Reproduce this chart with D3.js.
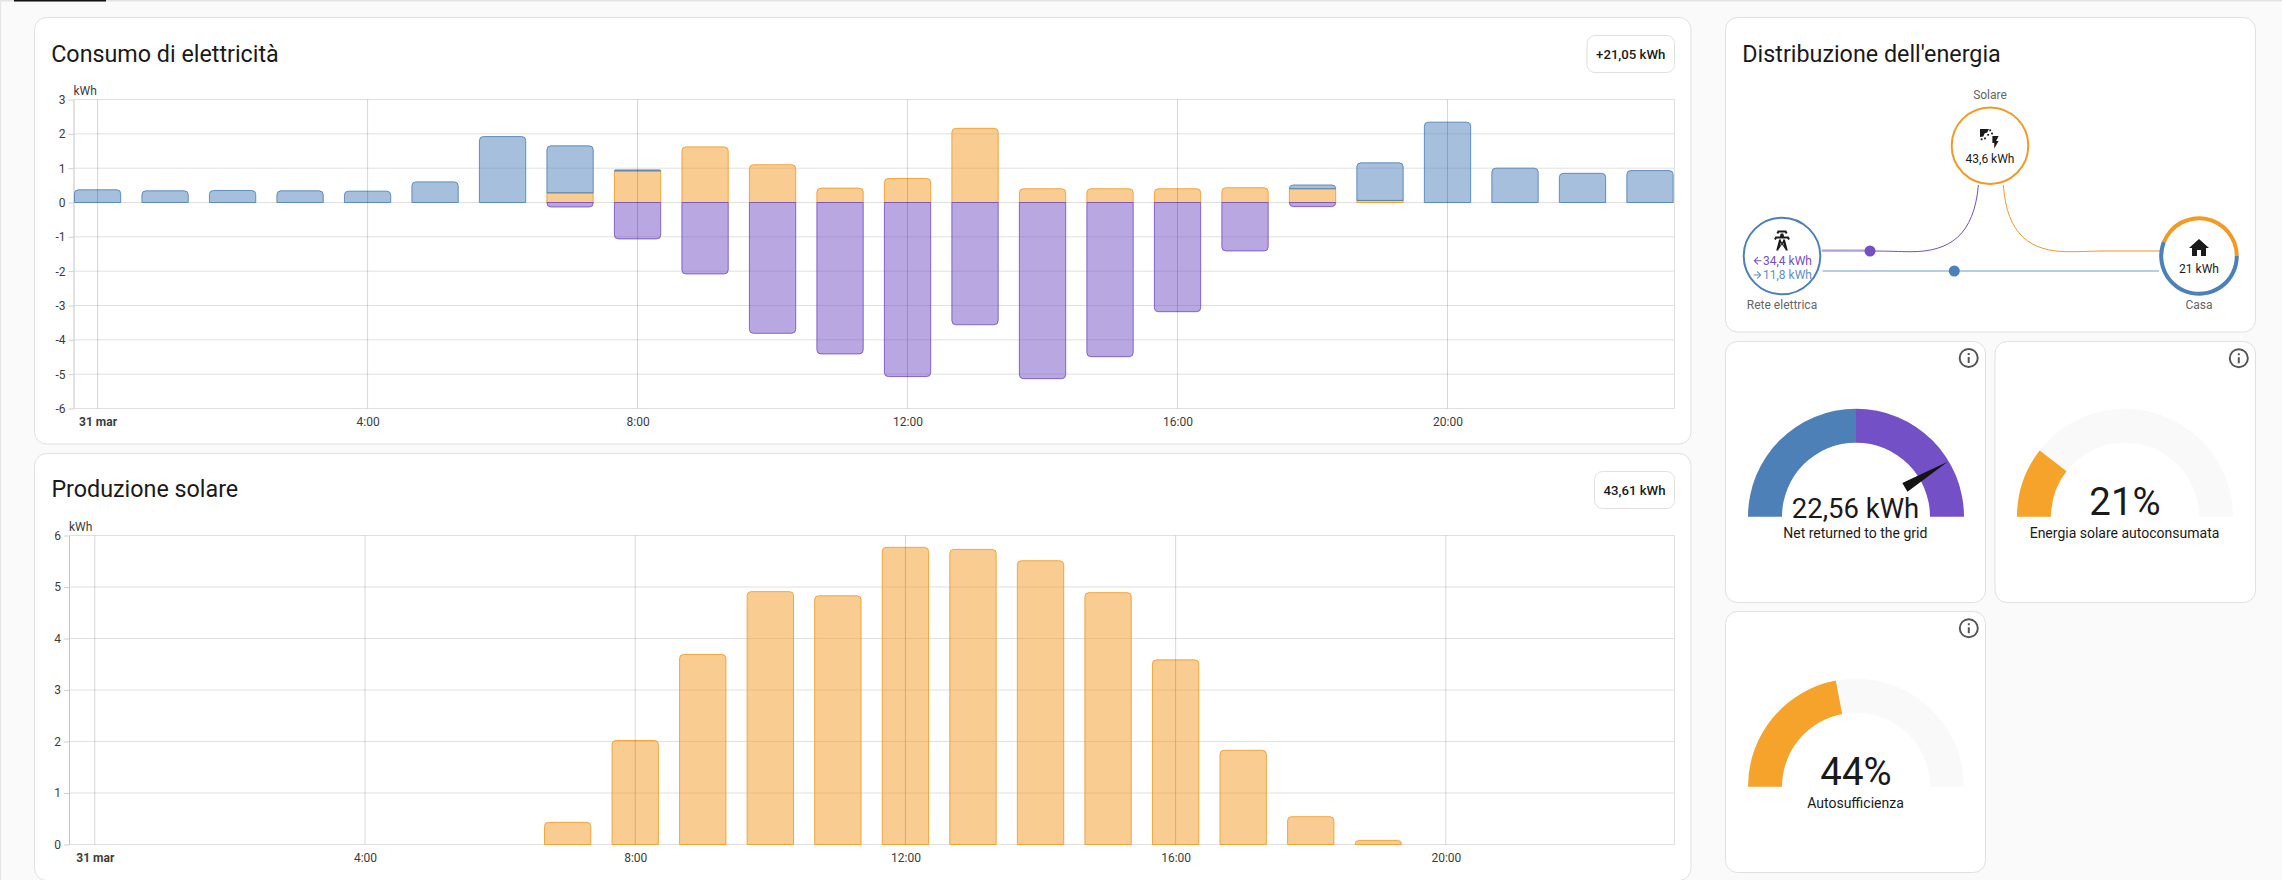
<!DOCTYPE html>
<html lang="it">
<head>
<meta charset="utf-8">
<title>Energia</title>
<script src="https://cdn.jsdelivr.net/npm/d3@7"></script>
<style>
  html,body{margin:0;padding:0;background:#fafafa;overflow:hidden}
  svg{display:block;font-family:Roboto,sans-serif}
  .tick text{font-family:Roboto,sans-serif}
</style>
</head>
<body>
<svg id="c" width="2282" height="880"></svg>
<script>
// ---- data -------------------------------------------------------------
const hours = d3.range(0, 24);
const solarToHome = [0,0,0,0,0,0,0,0.28,0.92,1.62,1.10,0.42,0.70,2.16,0.40,0.40,0.40,0.43,0.40,0.06,0,0,0,0];
const gridToHome  = [0.37,0.34,0.35,0.34,0.33,0.60,1.92,1.37,0.03,0,0,0,0,0,0,0,0,0,0.11,1.095,2.34,1.00,0.85,0.93];
const returned    = [0,0,0,0,0,0,0,-0.13,-1.06,-2.08,-3.81,-4.41,-5.07,-3.56,-5.13,-4.49,-3.18,-1.41,-0.12,0,0,0,0,0];
const solarProduction = [0,0,0,0,0,0,0,0.43,2.02,3.69,4.91,4.83,5.77,5.73,5.51,4.89,3.585,1.83,0.54,0.08,0,0,0,0];
const xTickHours  = [0,4,8,12,16,20];
const xTickLabels = ["31 mar","4:00","8:00","12:00","16:00","20:00"];
const consumptionTicks = [3,2,1,0,-1,-2,-3,-4,-5,-6];
const solarTicks = [0,1,2,3,4,5,6];
const gridImportKwh = 34.4, gridExportKwh = 11.8, solarKwh = 43.6, homeKwh = 21;
const homeShares = [0.44, 0.56];     // solar, grid share of the home ring
const netReturned = 22.56;
const selfConsumed = 21, selfSufficiency = 44;

const BLUE="#4c80b9", ORANGE="#f39a26", PURPLE="#7450c6", GAUGE_ORANGE="#f5a32a", GAUGE_BG="#f9f9f9";
const INK="#1a1a1a", GRID="#e0e0e0";

const svg = d3.select("#c");
const fmtIt = d3.formatLocale({decimal:",",thousands:".",grouping:[3],currency:["","€"]});

// page chrome
svg.append("rect").attr("width",2282).attr("height",880).attr("fill","#fafafa");
svg.append("rect").attr("width",2282).attr("height",1.5).attr("fill","#e3e3e3");
svg.append("rect").attr("width",1.2).attr("height",880).attr("fill","#e6e6e6");
svg.append("rect").attr("x",14).attr("width",92).attr("height",1.5).attr("fill","#111");

function card(x0,y0,x1,y1){
  svg.append("rect").attr("x",x0).attr("y",y0).attr("width",x1-x0).attr("height",y1-y0)
    .attr("rx",12).attr("fill","#fff").attr("stroke","#e0e0e0").attr("stroke-width",1);
}
function title(t,x,y){
  svg.append("text").attr("x",x).attr("y",y).attr("font-size",23.3).attr("fill",INK).text(t);
}
function badge(t,x0,y0,x1,y1){
  svg.append("rect").attr("x",x0).attr("y",y0).attr("width",x1-x0).attr("height",y1-y0)
    .attr("rx",8).attr("fill","#fff").attr("stroke","#e0e0e0");
  svg.append("text").attr("x",(x0+x1)/2).attr("y",(y0+y1)/2+4.6).attr("text-anchor","middle")
    .attr("font-size",13.2).attr("font-weight",500).attr("fill",INK).text(t);
}
// bar outline: rounded only on the free end
function barPath(x0,x1,yFree,yBase,r){
  const p=d3.path(), dir=yBase>yFree?1:-1;
  const rr=Math.min(r,Math.abs(yBase-yFree));
  p.moveTo(x0,yBase);
  p.lineTo(x0,yFree+dir*rr);
  p.quadraticCurveTo(x0,yFree,x0+rr,yFree);
  p.lineTo(x1-rr,yFree);
  p.quadraticCurveTo(x1,yFree,x1,yFree+dir*rr);
  p.lineTo(x1,yBase);
  p.closePath();
  return p.toString();
}
function chart(cfg){
  const x=d3.scaleLinear().domain(cfg.xDomain).range(cfg.xRange);
  const y=d3.scaleLinear().domain(cfg.yDomain).range(cfg.yRange);
  const g=svg.append("g");
  const left=cfg.xRange[0], right=cfg.xRange[1], top=d3.min(cfg.yRange), bottom=d3.max(cfg.yRange);
  // horizontal grid
  g.append("g").selectAll("line").data(cfg.yTicks).join("line")
    .attr("x1",left).attr("x2",right).attr("y1",d=>y(d)).attr("y2",d=>y(d))
    .attr("stroke",GRID);
  g.append("line").attr("x1",right).attr("x2",right).attr("y1",top).attr("y2",bottom).attr("stroke",GRID);
  // axes
  const ya=g.append("g").attr("transform",`translate(${left},0)`)
    .call(d3.axisLeft(y).tickValues(cfg.yTicks).tickSizeInner(5).tickSizeOuter(0).tickPadding(3).tickFormat(d=>String(d)));
  ya.select(".domain").attr("stroke","#c4c4c4");
  ya.selectAll(".tick line").attr("stroke","#d0d0d0");
  ya.selectAll("text").attr("font-size",12).attr("fill","#3c3c3c");
  const xa=g.append("g").attr("transform",`translate(0,${bottom})`)
    .call(d3.axisBottom(x).tickValues(xTickHours).tickSize(0).tickPadding(9).tickFormat((d,i)=>xTickLabels[i]));
  xa.select(".domain").remove();
  xa.selectAll("text").attr("font-size",12).attr("fill","#3c3c3c")
    .attr("font-weight",(d,i)=>i===0?700:400);
  g.append("text").attr("x",left).attr("y",top-4.5).attr("font-size",12).attr("fill","#3c3c3c").text("kWh");
  return {g,x,y,top,bottom};
}
function vGrid(c){
  c.g.append("g").selectAll("line").data(xTickHours).join("line")
    .attr("x1",d=>c.x(d)).attr("x2",d=>c.x(d)).attr("y1",c.top).attr("y2",c.bottom)
    .attr("stroke","#000").attr("stroke-opacity",0.16);
}
function bars(g,data,x,lo,hi,base,color,radius){
  const half=0.343;
  g.append("g").selectAll("path").data(data.filter(d=>Math.abs(hi(d)-lo(d))>0)).join("path")
    .attr("d",d=>barPath(x(d.h-half),x(d.h+half),hi(d),lo(d),radius(d)))
    .attr("fill",color).attr("fill-opacity",0.5).attr("stroke",color).attr("stroke-opacity",0.85).attr("stroke-width",1);
}

// ---- chart 1 ----------------------------------------------------------
card(34.5,17.5,1691,444);
title("Consumo di elettricità",51.2,61.7);
badge("+"+fmtIt.format(".2f")(21.05)+" kWh",1587,35.5,1674.5,72.5);
const c1=chart({xDomain:[-0.357,23.363],xRange:[73.5,1674.5],yDomain:[-6,3],yRange:[408.5,99.5],yTicks:consumptionTicks});
const rows=hours.map(h=>({h,s:solarToHome[h],b:gridToHome[h],r:returned[h]}));
bars(c1.g,rows,c1.x,d=>c1.y(0),d=>c1.y(d.s),0,ORANGE,d=>d.b>0?0:4);
bars(c1.g,rows,c1.x,d=>c1.y(d.s),d=>c1.y(d.s+d.b),0,BLUE,()=>4);
bars(c1.g,rows,c1.x,d=>c1.y(0),d=>c1.y(d.r),0,PURPLE,()=>4);
vGrid(c1);

// ---- chart 2 ----------------------------------------------------------
card(34.5,453.5,1691,880.5);
title("Produzione solare",51.4,497.3);
badge(fmtIt.format(".2f")(43.61)+" kWh",1594.5,471.5,1674.5,508.5);
const c2=chart({xDomain:[-0.382,23.385],xRange:[69,1674.5],yDomain:[0,6],yRange:[844.5,535.5],yTicks:solarTicks});
bars(c2.g,hours.map(h=>({h,v:solarProduction[h]})),c2.x,d=>c2.y(0),d=>c2.y(d.v),0,ORANGE,()=>4);
vGrid(c2);

// ---- energy distribution ---------------------------------------------
const ICON={
 home:"M10,20V14H14V20H19V12H22L12,3L2,12H5V20H10Z",
 tower:"M8.28,5.45L6.5,4.55L7.76,2H16.24L17.5,4.55L15.72,5.45L15,4H9L8.28,5.45M18.62,8H14.09L13.3,5H10.7L9.91,8H5.38L4.1,10.55L5.89,11.44L6.62,10H17.38L18.1,11.44L19.89,10.55L18.62,8M17.77,22H15.7L15.46,21.1L12,15.9L8.54,21.1L8.3,22H6.23L9.12,11H11.19L10.83,12.35L12,14.1L13.17,12.35L12.81,11H14.88L17.77,22M11.3,15L10.83,14.3L9.94,17.66L11.3,15M14.06,17.66L13.17,14.3L12.7,15L14.06,17.66Z",
 bolt:"M7,2V13H10V22L17,10H13L17,2H7Z",
 info:"M11,9H13V7H11M12,20C7.59,20 4,16.41 4,12C4,7.59 7.59,4 12,4C16.41,4 20,7.59 20,12C20,16.41 16.41,20 12,20M12,2A10,10 0 0,0 2,12A10,10 0 0,0 12,22A10,10 0 0,0 22,12A10,10 0 0,0 12,2M11,17H13V11H11V17Z",
 left:"M20,11V13H8L13.5,18.5L12.08,19.92L4.16,12L12.08,4.08L13.5,5.5L8,11H20Z",
 right:"M4,11V13H16L10.5,18.5L11.92,19.92L19.84,12L11.92,4.08L10.5,5.5L16,11H4Z"
};
function icon(name,cx,cy,size,fill){
  const s=size/24;
  svg.append("path").attr("d",ICON[name]).attr("fill",fill)
    .attr("transform",`translate(${cx-12*s},${cy-12*s}) scale(${s})`);
}
function txt(t,x,y,size,fill,anchor="middle",weight=400){
  return svg.append("text").attr("x",x).attr("y",y).attr("font-size",size).attr("fill",fill)
    .attr("text-anchor",anchor).attr("font-weight",weight).text(t);
}
card(1725.5,17.5,2255.5,332);
title("Distribuzione dell'energia",1742.3,61.7);
const gridC=[1782,256], solC=[1990,145.7], homeC=[2199,256];

// flow lines
const purplePath="M1870,251 C1890,251 1900,251.7 1911,251.7 C1950,251.7 1974,235 1978.4,185";
const orangePath="M2003.3,185 C2007,235 2030,251.7 2069,251.7 C2080,251.7 2090,251.3 2100,251";
const bluePath="M1822.5,271 H2159";
svg.append("path").attr("d","M1821.8,250.7 H1870").attr("fill","none").attr("stroke","#b39ddf").attr("stroke-width",2.2);
svg.append("path").attr("d","M2100,251 H2160.3").attr("fill","none").attr("stroke","#f8c88c").attr("stroke-width",2);
svg.append("path").attr("d",purplePath).attr("fill","none").attr("stroke",PURPLE).attr("stroke-width",1);
svg.append("path").attr("d",orangePath).attr("fill","none").attr("stroke",ORANGE).attr("stroke-width",1);
svg.append("path").attr("d",bluePath).attr("fill","none").attr("stroke","#6e9ad0").attr("stroke-width",1.2);
svg.append("circle").attr("cx",1870).attr("cy",251).attr("r",5.5).attr("fill",PURPLE);
svg.append("circle").attr("cx",1954.3).attr("cy",271).attr("r",5.5).attr("fill",BLUE);

// nodes
svg.append("circle").attr("cx",solC[0]).attr("cy",solC[1]).attr("r",38.3).attr("fill","#fff").attr("stroke",ORANGE).attr("stroke-width",2);
svg.append("circle").attr("cx",gridC[0]).attr("cy",gridC[1]).attr("r",38.3).attr("fill","#fff").attr("stroke",BLUE).attr("stroke-width",2);
const ring=d3.arc().innerRadius(35.8).outerRadius(39.8);
const splitA=Math.PI/2-homeShares[0]*2*Math.PI;
svg.append("path").attr("transform",`translate(${homeC})`)
  .attr("d",ring({startAngle:splitA,endAngle:Math.PI/2})).attr("fill",ORANGE);
svg.append("path").attr("transform",`translate(${homeC})`)
  .attr("d",ring({startAngle:Math.PI/2,endAngle:Math.PI/2+homeShares[1]*2*Math.PI})).attr("fill",BLUE);

// solar icon: panel, rays and bolt
svg.append("path").attr("fill","#1a1a1a")
  .attr("d","M1980,129 H1989 L1987.2,132.5 L1984.5,133.6 L1983.4,136.5 L1980,137 Z");
[[1990.2,130.3],[1992,133.5],[1981.6,139.3],[1985,138.4],[1988.2,134.8]].forEach(d=>
  svg.append("rect").attr("x",d[0]-.9).attr("y",d[1]-.9).attr("width",1.8).attr("height",1.8).attr("fill","#1a1a1a"));
icon("bolt",1995.5,142.3,15,"#1a1a1a");
icon("tower",1782,240.5,24,"#1a1a1a");
icon("home",2199,248,24,"#1a1a1a");

txt("Solare",1990,98.7,12,"#666");
txt(fmtIt.format(".1f")(solarKwh)+" kWh",1990,162.7,12,INK);
icon("left",1757.5,260.7,12,PURPLE);
icon("right",1757.5,275,12,"#5f90c9");
txt(fmtIt.format(".1f")(gridImportKwh)+" kWh",1763,265,12,PURPLE,"start");
txt(fmtIt.format(".1f")(gridExportKwh)+" kWh",1763,279,12,"#5f90c9","start");
txt("Rete elettrica",1782,308.7,12,"#666");
txt("Casa",2199,308.7,12,"#666");
txt(homeKwh+" kWh",2199,272.7,12,INK);

// ---- gauges -----------------------------------------------------------
const gaugeArc=d3.arc().innerRadius(74).outerRadius(108);
const frac=d3.scaleLinear().domain([0,1]).range([-Math.PI/2,Math.PI/2]);
function seg(c,a,b,fill){
  svg.append("path").attr("transform",`translate(${c})`)
    .attr("d",gaugeArc({startAngle:frac(a),endAngle:frac(b)})).attr("fill",fill);
}
function pctGauge(c,v,valueText,label,x0,y0,x1,y1){
  card(x0,y0,x1,y1);
  icon("info",x1-16.7,y0+16.7,24,"#555");
  seg(c,0,1,GAUGE_BG);
  seg(c,0,v/100,GAUGE_ORANGE);
  txt(valueText,c[0],c[1]-1.7,38.4,INK);
  txt(label,c[0]-.5,c[1]+21,14,INK);
}
// net-returned gauge, domain = ± grid import
const gc=[1856,516.7];
card(1725.5,341.5,1985.5,602.5);
icon("info",1968.7,358,24,"#555");
const netFrac=d3.scaleLinear().domain([-gridImportKwh,gridImportKwh]).range([0,1]);
seg(gc,0,0.5,"#4e80b8");
seg(gc,0.5,1,PURPLE);
const needleAngle=(netFrac(netReturned)-0.5)*180;
svg.append("path").attr("transform",`translate(${gc}) rotate(${needleAngle})`)
  .attr("d","M-5,-57 L0,-107 L5,-57 Z").attr("fill","#141414");
txt(fmtIt.format(".2f")(netReturned)+" kWh",1855.5,517.7,27.5,INK);
txt("Net returned to the grid",1855.3,537.7,14,INK);

pctGauge([2125,516.7],selfConsumed,selfConsumed+"%","Energia solare autoconsumata",1995,341.5,2255.5,602.5);
pctGauge([1856,786.7],selfSufficiency,selfSufficiency+"%","Autosufficienza",1725.5,611.5,1985.5,872.5);
</script>
</body>
</html>
